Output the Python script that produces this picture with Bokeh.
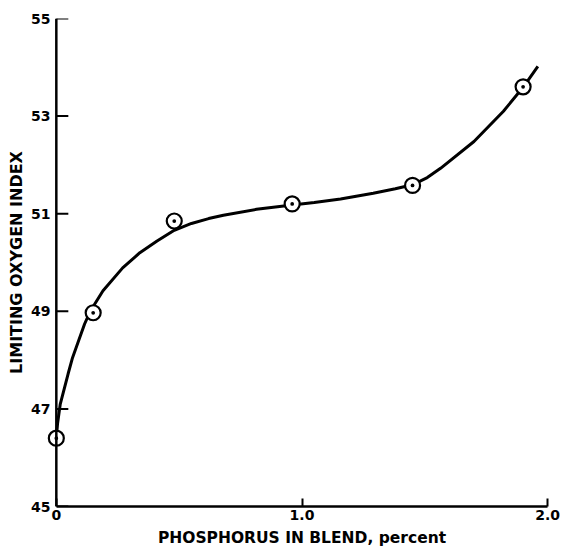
from bokeh.plotting import figure
from bokeh.models import FixedTicker, Range1d, Span
from bokeh.embed import file_html
from bokeh.resources import INLINE

# Measured data points
pts_x = [0.0, 0.15, 0.48, 0.96, 1.45, 1.90]
pts_y = [46.4, 48.97, 50.85, 51.2, 51.58, 53.6]

# Smooth fitted curve
curve_x = [0.0, 0.005, 0.016, 0.03, 0.048, 0.066, 0.091, 0.115, 0.138, 0.19,
           0.27, 0.34, 0.41, 0.48, 0.55, 0.62, 0.68, 0.815, 0.96, 1.05, 1.157,
           1.29, 1.38, 1.454, 1.51, 1.564, 1.70, 1.82, 1.90, 1.96]
curve_y = [46.4, 46.7, 47.1, 47.37, 47.72, 48.05, 48.4, 48.74, 49.0, 49.42,
           49.89, 50.2, 50.44, 50.66, 50.8, 50.9, 50.97, 51.09, 51.18, 51.23,
           51.3, 51.42, 51.51, 51.6, 51.74, 51.93, 52.48, 53.1, 53.59, 54.02]

x_ticks = [0, 1.0, 2.0]
x_labels = {0: "0", 1: "1.0", 2: "2.0"}
y_ticks = [45, 47, 49, 51, 53, 55]
x_min, x_max = 0.0, 2.0

p = figure(width=563, height=552, output_backend="svg", toolbar_location=None,
           x_range=Range1d(-0.04, 2.04), y_range=Range1d(45, 55),
           min_border_left=46, min_border_right=6, min_border_top=18,
           min_border_bottom=46)
p.outline_line_color = None
p.xgrid.grid_line_color = None
p.ygrid.grid_line_color = None

# vertical axis line at x = 0 and its inward ticks
p.add_layout(Span(location=x_min, dimension="height", line_color="black",
                  line_width=2.5))
p.ray(x=[x_min] * len(y_ticks), y=y_ticks, length=12, angle=0,
      length_units="screen", line_color="black", line_width=2)

p.line(curve_x, curve_y, line_color="black", line_width=3)
p.scatter(pts_x, pts_y, marker="circle_dot", size=15, fill_color="white",
          line_color="black", line_width=2.2)

FONT = "DejaVu Sans"
for ax in (p.xaxis[0], p.yaxis[0]):
    ax.axis_line_width = 2.5
    ax.axis_line_color = "black"
    ax.major_tick_line_color = "black"
    ax.major_tick_line_width = 2
    ax.minor_tick_line_color = None
    ax.major_tick_out = 0
    ax.major_label_text_font = FONT
    ax.major_label_text_font_style = "bold"
    ax.major_label_text_font_size = "14px"
    ax.major_label_text_color = "black"
    ax.axis_label_text_font = FONT
    ax.axis_label_text_font_style = "bold"
    ax.axis_label_text_color = "black"

p.xaxis.ticker = FixedTicker(ticks=x_ticks)
p.xaxis.major_label_overrides = x_labels
p.xaxis.bounds = (x_min, x_max)
p.xaxis.major_tick_in = 8
p.xaxis.major_label_standoff = 3
p.xaxis.axis_label = "PHOSPHORUS IN BLEND, percent"
p.xaxis.axis_label_text_font_size = "15.5px"
p.xaxis.axis_label_standoff = 6

p.yaxis.ticker = FixedTicker(ticks=y_ticks)
p.yaxis.axis_line_color = None
p.yaxis.major_tick_line_color = None
p.yaxis.major_tick_in = 0
p.yaxis.major_label_standoff = -4
p.yaxis.axis_label = "LIMITING OXYGEN INDEX"
p.yaxis.axis_label_text_font_size = "16px"
p.yaxis.axis_label_standoff = 2

open("out.html", "w").write(file_html(p, INLINE))
